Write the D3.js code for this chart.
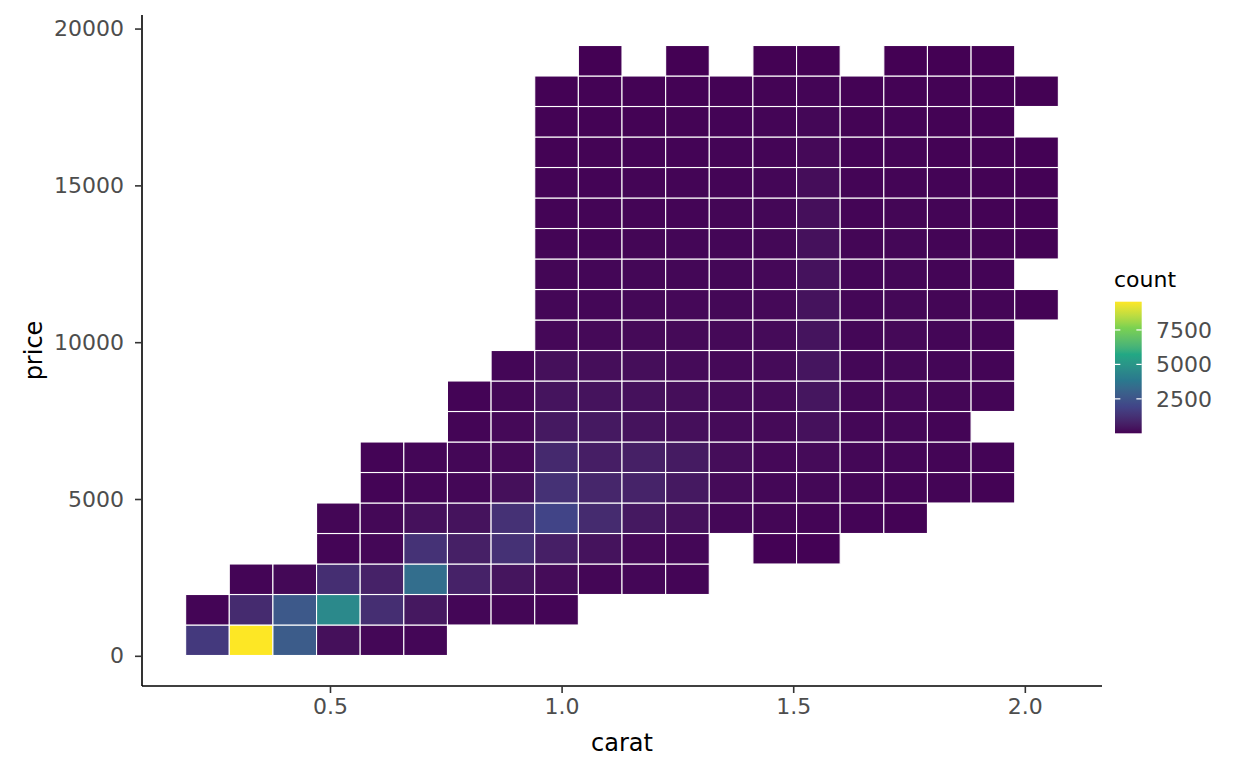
<!DOCTYPE html>
<html>
<head>
<meta charset="utf-8">
<script src="https://cdn.jsdelivr.net/npm/d3@7"></script>
<style>
  body { margin: 0; background: #fff; }
  svg { display: block; font-family: "DejaVu Sans", sans-serif; }
</style>
</head>
<body>
<svg width="1248" height="771"></svg>
<script>
// bin layout (carat / price bins of the 2d histogram)
const caratStart = 0.1884, caratBin = 0.0942;
const priceStart = 10, priceBin = 972.5;

// counts per price bin (bottom row first), one value per carat bin; 0 = empty
const row00 = [1530, 9550, 2770, 280, 120, 100, 0, 0, 0, 0, 0, 0, 0, 0, 0, 0, 0, 0, 0, 0];
const row01 = [80, 1050, 2680, 4490, 1150, 480, 100, 90, 70, 0, 0, 0, 0, 0, 0, 0, 0, 0, 0, 0];
const row02 = [0, 80, 130, 1150, 760, 3440, 760, 400, 200, 90, 100, 80, 0, 0, 0, 0, 0, 0, 0, 0];
const row03 = [0, 0, 0, 80, 120, 1300, 700, 1250, 680, 350, 150, 120, 0, 30, 30, 0, 0, 0, 0, 0];
const row04 = [0, 0, 0, 90, 130, 300, 350, 1250, 1900, 1050, 500, 300, 110, 90, 80, 60, 50, 0, 0, 0];
const row05 = [0, 0, 0, 0, 60, 100, 120, 280, 1250, 900, 800, 500, 180, 110, 130, 90, 80, 70, 50, 0];
const row06 = [0, 0, 0, 0, 60, 100, 120, 150, 1000, 650, 700, 550, 230, 140, 190, 110, 100, 70, 60, 0];
const row07 = [0, 0, 0, 0, 0, 0, 80, 150, 520, 500, 350, 270, 180, 170, 320, 120, 110, 80, 0, 0];
const row08 = [0, 0, 0, 0, 0, 0, 60, 130, 380, 360, 320, 250, 180, 190, 430, 130, 140, 90, 80, 0];
const row09 = [0, 0, 0, 0, 0, 0, 0, 100, 280, 250, 240, 190, 160, 190, 410, 120, 130, 100, 70, 0];
const row10 = [0, 0, 0, 0, 0, 0, 0, 0, 140, 150, 170, 170, 150, 180, 380, 120, 150, 100, 80, 0];
const row11 = [0, 0, 0, 0, 0, 0, 0, 0, 110, 120, 130, 140, 130, 160, 360, 110, 130, 90, 70, 40];
const row12 = [0, 0, 0, 0, 0, 0, 0, 0, 90, 100, 110, 115, 115, 140, 340, 100, 120, 85, 65, 0];
const row13 = [0, 0, 0, 0, 0, 0, 0, 0, 75, 85, 95, 100, 100, 130, 310, 90, 110, 75, 55, 35];
const row14 = [0, 0, 0, 0, 0, 0, 0, 0, 65, 75, 80, 85, 90, 115, 260, 80, 95, 70, 50, 30];
const row15 = [0, 0, 0, 0, 0, 0, 0, 0, 60, 65, 70, 75, 80, 100, 220, 70, 85, 60, 45, 28];
const row16 = [0, 0, 0, 0, 0, 0, 0, 0, 50, 55, 60, 65, 70, 85, 150, 60, 70, 50, 40, 25];
const row17 = [0, 0, 0, 0, 0, 0, 0, 0, 40, 45, 50, 55, 60, 70, 110, 55, 60, 45, 30, 0];
const row18 = [0, 0, 0, 0, 0, 0, 0, 0, 30, 35, 40, 45, 50, 55, 80, 45, 50, 35, 25, 15];
const row19 = [0, 0, 0, 0, 0, 0, 0, 0, 0, 8, 0, 10, 0, 12, 12, 0, 10, 8, 6, 0];
const counts = [row00, row01, row02, row03, row04, row05, row06, row07, row08, row09,
                row10, row11, row12, row13, row14, row15, row16, row17, row18, row19];

const xTicks = [0.5, 1.0, 1.5, 2.0];
const yTicks = [0, 5000, 10000, 15000, 20000];
const legendTicks = [2500, 5000, 7500];
const countRange = [1, 9550];
const viridis6 = ["#440154", "#414487", "#2A788E", "#22A884", "#7AD151", "#FDE725"];

const svg = d3.select("svg");
const mLeft = 142, mRight = 1102, mTop = 15, mBottom = 686;

// flatten the grid into tiles
const tiles = [];
counts.forEach((row, j) => row.forEach((c, i) => {
  if (c > 0) tiles.push({
    x0: caratStart + i * caratBin, x1: caratStart + (i + 1) * caratBin,
    y0: priceStart + j * priceBin, y1: priceStart + (j + 1) * priceBin, count: c
  });
}));

// 5% expansion like ggplot
const xMin = caratStart, xMax = caratStart + counts[0].length * caratBin;
const yMin = priceStart, yMax = priceStart + counts.length * priceBin;
const xPad = (xMax - xMin) * 0.05, yPad = (yMax - yMin) * 0.05;

const x = d3.scaleLinear().domain([xMin - xPad, xMax + xPad]).range([mLeft, mRight]);
const y = d3.scaleLinear().domain([yMin - yPad, yMax + yPad]).range([mBottom, mTop]);

const color = d3.scaleLinear()
  .domain(d3.range(6).map(k => countRange[0] + k / 5 * (countRange[1] - countRange[0])))
  .range(viridis6)
  .interpolate(d3.interpolateLab)
  .clamp(true);

svg.append("g")
  .selectAll("rect")
  .data(tiles)
  .enter()
  .append("rect")
  .attr("x", d => x(d.x0))
  .attr("y", d => y(d.y1))
  .attr("width", d => x(d.x1) - x(d.x0))
  .attr("height", d => y(d.y0) - y(d.y1))
  .attr("fill", d => color(d.count))
  .attr("stroke", "white")
  .attr("stroke-width", 1.1);

// axes
const xAxis = svg.append("g")
  .attr("transform", `translate(0,${mBottom})`)
  .call(d3.axisBottom(x).tickValues(xTicks).tickFormat(d3.format(".1f")).tickSize(7).tickPadding(5));
const yAxis = svg.append("g")
  .attr("transform", `translate(${mLeft},0)`)
  .call(d3.axisLeft(y).tickValues(yTicks).tickFormat(d => d).tickSize(7).tickPadding(11));

[xAxis, yAxis].forEach(a => {
  a.select(".domain").attr("stroke", "black").attr("stroke-width", 1.6);
  a.selectAll(".tick line").attr("stroke", "#333333").attr("stroke-width", 1.6);
  a.selectAll(".tick text")
    .attr("fill", "#4D4D4D")
    .style("font-size", "22px")
    .style("font-family", "DejaVu Sans");
});
// domain path without outer ticks
xAxis.select(".domain").attr("d", `M${mLeft},0H${mRight}`);
yAxis.select(".domain").attr("d", `M0,${mBottom}V${mTop}`);

svg.append("text")
  .attr("x", (mLeft + mRight) / 2)
  .attr("y", 751)
  .attr("text-anchor", "middle")
  .style("font-size", "24px")
  .text("carat");

svg.append("text")
  .attr("transform", `translate(42,${(mTop + mBottom) / 2}) rotate(-90)`)
  .attr("text-anchor", "middle")
  .style("font-size", "24px")
  .text("price");

// legend
const legX = 1115, legW = 26.7, legTop = 301.7, legBottom = 433.3;
const ly = d3.scaleLinear().domain(countRange).range([legBottom, legTop]);

const grad = svg.append("defs").append("linearGradient")
  .attr("id", "legend-grad")
  .attr("x1", 0).attr("y1", 1).attr("x2", 0).attr("y2", 0);
grad.selectAll("stop")
  .data(d3.range(0, 1.0001, 0.02))
  .enter()
  .append("stop")
  .attr("offset", d => d)
  .attr("stop-color", d => color(countRange[0] + d * (countRange[1] - countRange[0])));

svg.append("rect")
  .attr("x", legX).attr("y", legTop)
  .attr("width", legW).attr("height", legBottom - legTop)
  .attr("fill", "url(#legend-grad)");

const lt = svg.append("g").selectAll("g")
  .data(legendTicks)
  .enter()
  .append("g");
lt.append("line")
  .attr("x1", legX).attr("x2", legX + legW / 5)
  .attr("y1", d => ly(d)).attr("y2", d => ly(d))
  .attr("stroke", "white").attr("stroke-width", 1.2);
lt.append("line")
  .attr("x1", legX + legW - legW / 5).attr("x2", legX + legW)
  .attr("y1", d => ly(d)).attr("y2", d => ly(d))
  .attr("stroke", "white").attr("stroke-width", 1.2);
lt.append("text")
  .attr("x", 1156)
  .attr("y", d => ly(d))
  .attr("dy", "0.36em")
  .attr("fill", "#4D4D4D")
  .style("font-size", "22px")
  .text(d => d);

svg.append("text")
  .attr("x", legX - 1)
  .attr("y", 287)
  .style("font-size", "22px")
  .text("count");
</script>
</body>
</html>
